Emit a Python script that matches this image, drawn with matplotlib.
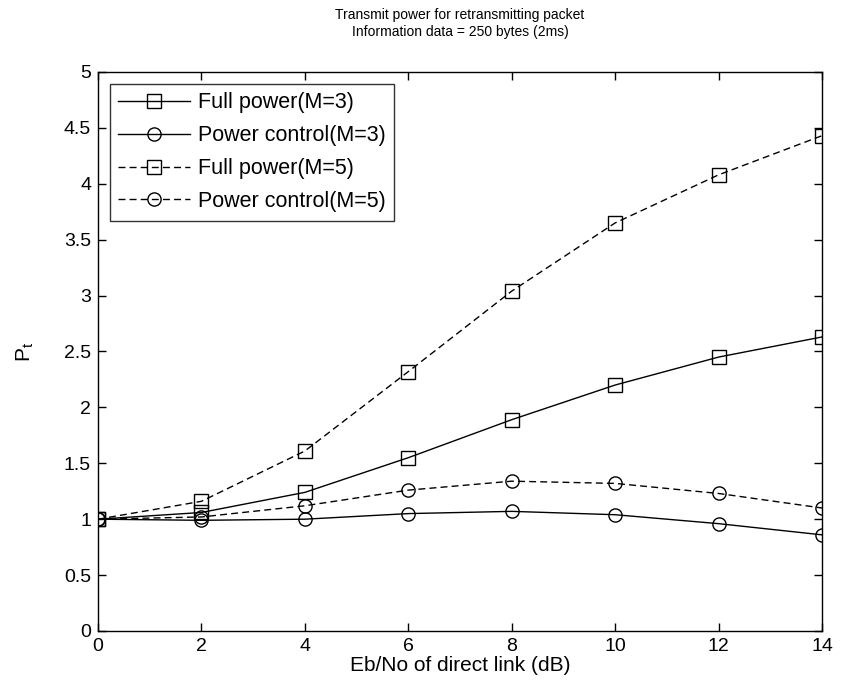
import matplotlib
matplotlib.use("Agg")
import matplotlib.pyplot as plt

# Eb/No of direct link (dB)
ebno = [0, 2, 4, 6, 8, 10, 12, 14]

# Transmit power P_t
full_m3 = [1.00, 1.06, 1.24, 1.55, 1.89, 2.20, 2.45, 2.63]
pc_m3 = [1.00, 0.99, 1.00, 1.05, 1.07, 1.04, 0.96, 0.86]
full_m5 = [1.00, 1.16, 1.61, 2.32, 3.04, 3.65, 4.08, 4.43]
pc_m5 = [1.00, 1.02, 1.12, 1.26, 1.34, 1.32, 1.23, 1.10]

labels = ["Full power(M=3)", "Power control(M=3)",
          "Full power(M=5)", "Power control(M=5)"]

plt.rcParams["font.family"] = ["Liberation Sans", "DejaVu Sans"]
plt.rcParams["mathtext.fontset"] = "custom"
plt.rcParams["mathtext.rm"] = "Liberation Sans"
plt.rcParams["mathtext.it"] = "Liberation Sans"

fig = plt.figure(figsize=(8.53, 6.96), dpi=100)
ax = fig.add_axes([0.1149, 0.0934, 0.8488, 0.8032])

common = dict(color="black", linewidth=1.0, markerfacecolor="none",
              markeredgecolor="black", markeredgewidth=1.0)
dash = (0, (5, 3))
ax.plot(ebno, full_m3, "-", marker="s", markersize=10, label=labels[0], **common)
ax.plot(ebno, pc_m3, "-", marker="o", markersize=9.5, label=labels[1], **common)
ax.plot(ebno, full_m5, linestyle=dash, marker="s", markersize=10,
        label=labels[2], **common)
ax.plot(ebno, pc_m5, linestyle=dash, marker="o", markersize=9.5,
        label=labels[3], **common)

ax.set_xlim(0, 14)
ax.set_ylim(0, 5)
ax.set_xticks(range(0, 15, 2))
ax.set_yticks([0, 0.5, 1, 1.5, 2, 2.5, 3, 3.5, 4, 4.5, 5])
ax.set_yticklabels(["0", "0.5", "1", "1.5", "2", "2.5", "3", "3.5", "4", "4.5", "5"])
ax.tick_params(direction="in", top=True, right=True, length=6, width=1,
               labelsize=14, pad=5)
for s in ax.spines.values():
    s.set_linewidth(1.0)

ax.set_xlabel("Eb/No of direct link (dB)", fontsize=15, labelpad=1)
ax.set_ylabel("P$_{t}$", fontsize=15, labelpad=20)
ax.set_title("Transmit power for retransmitting packet\n"
             "Information data = 250 bytes (2ms)", fontsize=10, pad=26,
             linespacing=1.25)

leg = ax.legend(loc="upper left", fontsize=15.5, frameon=True, fancybox=False,
                edgecolor="black", handlelength=3.3, borderaxespad=0.55,
                labelspacing=0.55, handletextpad=0.4, borderpad=0.4)
leg.get_frame().set_linewidth(1.0)

fig.savefig("out.png", dpi=100)
